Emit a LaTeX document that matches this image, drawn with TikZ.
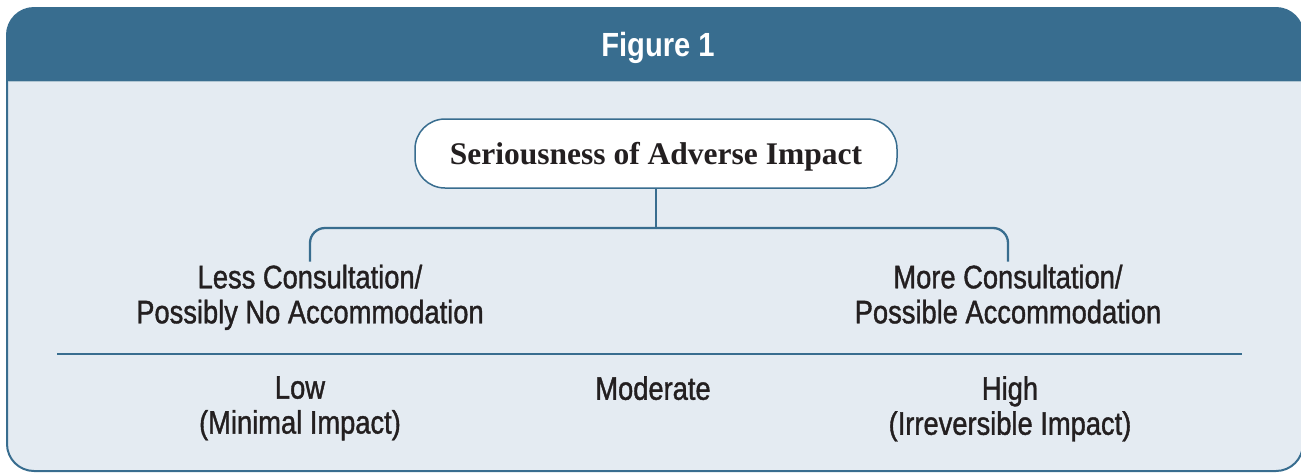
\documentclass[tikz,border=0pt]{standalone}
\usepackage{fontspec}
\setmainfont{Liberation Serif}
\newfontfamily\condfont{Liberation Sans}[FakeStretch=0.84,FakeBold=1.2]
\newfontfamily\headfont{Liberation Sans Bold}[FakeStretch=0.87]

\definecolor{headblue}{HTML}{386D8F}
\definecolor{paleblue}{HTML}{E4EBF2}
\definecolor{inkgray}{HTML}{231F20}

\begin{document}
\begin{tikzpicture}
		[x=1pt,y=-1pt,
		sidetext/.style={font=\condfont\fontsize{32.5}{35}\selectfont,text=inkgray,align=center,inner xsep=0pt,inner ysep=3pt},
		scaletext/.style={font=\condfont\fontsize{32.5}{35}\selectfont,text=inkgray,align=center,inner sep=0pt},
		branch/.style={draw=headblue,line width=2.3pt,rounded corners=15pt}]
		\useasboundingbox (0,0) rectangle (1301,472);

		% frame and header
		\draw[draw=headblue,fill=paleblue,line width=2pt,rounded corners=27pt] (7,8) rectangle (1303,471);
		\fill[headblue] (7,81) [rounded corners=27pt] -- (7,8) -- (1303,8) [sharp corners] -- (1303,81) -- cycle;
		\draw[white!60!headblue,line width=0.8pt] (8,81) -- (1302,81);
		\node[font=\headfont\fontsize{33.5}{35}\selectfont,text=white,anchor=base] (fig) at (658,56) {Figure 1};

		\node[draw=headblue,line width=1.5pt,fill=white,rounded corners=30pt,minimum width=482pt,minimum height=69pt,text depth=0pt,font=\bfseries\fontsize{31.5}{35}\selectfont,text=inkgray] (impact) at (656,153.5) {Seriousness of Adverse Impact};

		\coordinate (split) at (656,228);
		\node[sidetext,anchor=north] (lessC) at (310,261.5) {Less Consultation/\\Possibly No Accommodation};
		\node[sidetext,anchor=north] (moreC) at (1008,261.5) {More Consultation/\\Possible Accommodation};

		\draw[branch] (impact.south) -- (split);
		\draw[branch] (split) -| (lessC.north);
		\draw[branch] (split) -| (moreC.north);

		% scale
		\coordinate (axisL) at (57,354);
		\coordinate (axisR) at (1242,354);
		\draw[headblue,line width=2.3pt] (axisL) -- (axisR);

		\node[scaletext,anchor=north] (low) at (300,376) {Low\\(Minimal Impact)};
		\node[scaletext,anchor=north] (mid) at (653,376) {Moderate};
		\node[scaletext,anchor=north] (high) at (1010,376) {High\\(Irreversible Impact)};

	\end{tikzpicture}
\end{document}
